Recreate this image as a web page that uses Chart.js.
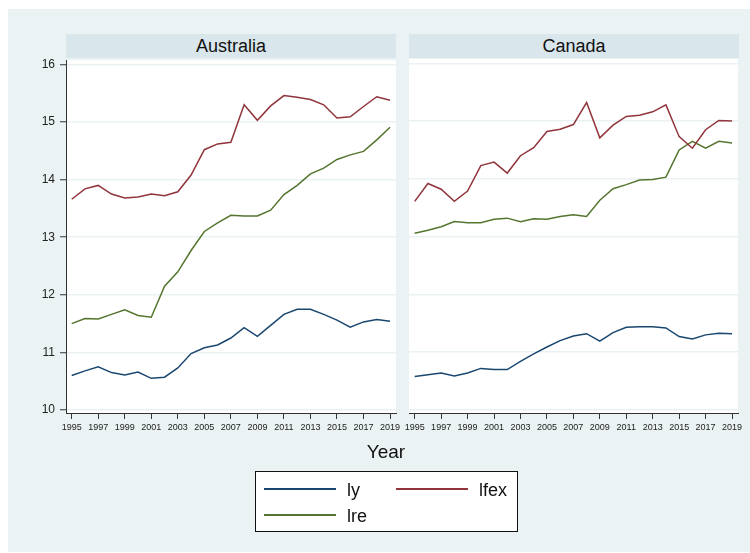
<!DOCTYPE html>
<html>
<head>
<meta charset="utf-8">
<script src="https://cdn.jsdelivr.net/npm/chart.js@4.4.1/dist/chart.umd.min.js"></script>
<style>
  html, body { margin: 0; padding: 0; background: #fff; width: 750px; height: 553px; overflow: hidden;
    font-family: "Liberation Sans", Arial, sans-serif; }
  #frame { position: absolute; left: 8px; top: 9px; width: 742px; height: 543px; background: #eaf2f3; }
  .strip { position: absolute; top: 34px; height: 24px; background: #d9e6eb; color: #111;
    font-size: 18px; line-height: 25px; text-align: center; }
  canvas { position: absolute; }
  #xtitle { position: absolute; left: 286px; width: 200px; top: 441px; text-align: center;
    font-size: 19px; color: #111; }
  #legend { position: absolute; left: 255px; top: 471px; width: 261px; height: 59px;
    background: #fff; border: 1px solid #111; }
  .key { position: absolute; height: 2px; width: 72px; }
  .lab { position: absolute; font-size: 18px; color: #111; line-height: 20px; }
</style>
</head>
<body>
<div id="frame"></div>
<div class="strip" id="stripA" style="left:66px;width:330px;"></div>
<div class="strip" id="stripC" style="left:409px;width:330px;"></div>
<canvas id="chartA" width="398" height="395" style="left:8px;top:48px;"></canvas>
<canvas id="chartC" width="349" height="395" style="left:399px;top:48px;"></canvas>
<div id="xtitle"></div>
<div id="legend"></div>
<script>
// Annual observations, 1995-2019 (log scale values)
const years = [1995,1996,1997,1998,1999,2000,2001,2002,2003,2004,2005,2006,2007,
               2008,2009,2010,2011,2012,2013,2014,2015,2016,2017,2018,2019];
const xTickYears = [1995,1997,1999,2001,2003,2005,2007,2009,2011,2013,2015,2017,2019];
const yTickValues = [10,11,12,13,14,15,16];
const panelNames = ['Australia', 'Canada'];
const seriesNames = ['ly', 'lfex', 'lre'];
const seriesColors = ['#1a476f', '#90353b', '#55752f'];
const axisTitle = 'Year';

const ausLy   = [10.60,10.68,10.75,10.65,10.61,10.66,10.55,10.57,10.73,10.98,11.08,11.13,11.25,
                 11.43,11.28,11.47,11.66,11.75,11.75,11.66,11.56,11.44,11.53,11.57,11.54];
const ausLfex = [13.66,13.84,13.90,13.75,13.68,13.70,13.75,13.72,13.79,14.08,14.52,14.62,14.65,
                 15.30,15.03,15.28,15.46,15.43,15.39,15.30,15.07,15.09,15.27,15.44,15.38];
const ausLre  = [11.50,11.59,11.58,11.66,11.74,11.64,11.61,12.15,12.40,12.77,13.10,13.25,13.38,
                 13.37,13.37,13.47,13.74,13.90,14.10,14.20,14.35,14.43,14.49,14.69,14.91];

const canLy   = [10.58,10.61,10.64,10.59,10.64,10.72,10.70,10.70,10.84,10.97,11.09,11.20,11.28,
                 11.32,11.19,11.34,11.43,11.44,11.44,11.42,11.27,11.23,11.30,11.33,11.32];
const canLfex = [13.61,13.92,13.82,13.61,13.79,14.23,14.29,14.10,14.40,14.54,14.82,14.86,14.94,
                 15.32,14.71,14.93,15.08,15.10,15.16,15.28,14.73,14.53,14.85,15.01,15.00];
const canLre  = [13.06,13.11,13.17,13.26,13.24,13.24,13.30,13.32,13.26,13.31,13.30,13.35,13.38,
                 13.35,13.63,13.83,13.90,13.98,13.99,14.03,14.50,14.65,14.53,14.65,14.62];

const FONT = '"Liberation Sans", Arial, sans-serif';

// white plotting region behind the lines
const plotBg = {
  id: 'plotBg',
  beforeDraw(chart) {
    const a = chart.chartArea, ctx = chart.ctx;
    ctx.save();
    ctx.fillStyle = '#ffffff';
    ctx.fillRect(a.left, a.top, a.right - a.left, a.bottom - a.top);
    ctx.restore();
  }
};

function makeDatasets(series) {
  return series.map((vals, i) => ({
    label: seriesNames[i],
    data: years.map((yr, k) => ({ x: yr, y: vals[k] })),
    borderColor: seriesColors[i],
    backgroundColor: seriesColors[i],
    borderWidth: 1.5,
    pointRadius: 0,
    tension: 0,
    fill: false
  }));
}

function makeChart(id, series, showYAxis) {
  const yScale = {
    type: 'linear',
    min: 9.948,
    max: 16.074,
    afterBuildTicks: s => { s.ticks = yTickValues.map(v => ({ value: v })); },
    grid: {
      color: '#eaf2f3',
      lineWidth: 1.5,
      drawTicks: showYAxis,
      tickLength: showYAxis ? 6 : 0,
      tickColor: '#333',
      tickWidth: 1
    },
    border: { display: showYAxis, color: '#333', width: 1 },
    ticks: {
      display: showYAxis,
      padding: 5,
      color: '#222',
      font: { family: FONT, size: 12 },
      callback: v => String(v)
    },
    afterFit: s => { s.width = showYAxis ? 58 : 0; }
  };
  const xScale = {
    type: 'linear',
    min: 1994.57,
    max: 2019.45,
    afterBuildTicks: s => { s.ticks = xTickYears.map(v => ({ value: v })); },
    grid: { drawOnChartArea: false, drawTicks: true, tickLength: 6, tickColor: '#333', tickWidth: 1 },
    border: { color: '#333', width: 1 },
    ticks: {
      autoSkip: false,
      maxRotation: 0,
      minRotation: 0,
      padding: 3,
      color: '#222',
      font: { family: FONT, size: 9 },
      callback: v => String(v)
    },
    afterFit: s => { s.height = 30; }
  };
  return new Chart(document.getElementById(id), {
    type: 'line',
    data: { datasets: makeDatasets(series) },
    options: {
      responsive: false,
      animation: false,
      devicePixelRatio: 1,
      layout: { padding: { top: 11, right: 10, left: showYAxis ? 0 : 10, bottom: 0 } },
      plugins: { legend: { display: false }, tooltip: { enabled: false } },
      scales: { x: xScale, y: yScale }
    },
    plugins: [plotBg]
  });
}

makeChart('chartA', [ausLy, ausLfex, ausLre], true);
makeChart('chartC', [canLy, canLfex, canLre], false);

document.getElementById('stripA').textContent = panelNames[0];
document.getElementById('stripC').textContent = panelNames[1];
document.getElementById('xtitle').textContent = axisTitle;

// legend: two columns (ly, lfex / lre)
const legendPos = [
  { kx: 8,   ky: 17, tx: 91 },
  { kx: 140, ky: 17, tx: 223 },
  { kx: 8,   ky: 43, tx: 91 }
];
const legend = document.getElementById('legend');
seriesNames.forEach((name, i) => {
  const p = legendPos[i];
  const key = document.createElement('div');
  key.className = 'key';
  key.style.left = p.kx + 'px';
  key.style.top = (p.ky - 1) + 'px';
  key.style.background = seriesColors[i];
  legend.appendChild(key);
  const lab = document.createElement('div');
  lab.className = 'lab';
  lab.style.left = p.tx + 'px';
  lab.style.top = (p.ky - 9) + 'px';
  lab.textContent = name;
  legend.appendChild(lab);
});
</script>
</body>
</html>
